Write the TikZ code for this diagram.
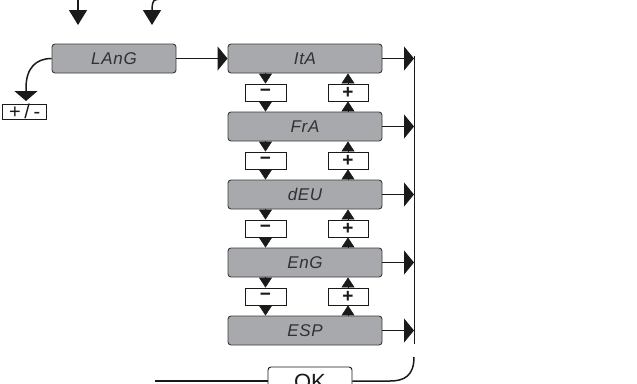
\documentclass[tikz,border=0pt]{standalone}
\usepackage{fontspec}
\setmainfont{Liberation Sans}
\newfontfamily\segfont[LetterSpace=4]{Liberation Sans}
\newfontfamily\keyfont[LetterSpace=18]{Liberation Sans}
\usetikzlibrary{arrows.meta}
\definecolor{boxgray}{HTML}{A7A9AC}
\definecolor{ink}{HTML}{1A1A1A}
\tikzset{
  disp/.style={draw=ink!85, fill=boxgray, line width=0.9pt, rounded corners=3pt,
    minimum width=154pt, minimum height=29pt, inner sep=0pt,
    font=\segfont\itshape\fontsize{17}{17}\selectfont, text=ink!90},
  keybox/.style={draw=ink, fill=white, line width=0.9pt, minimum width=41pt,
    minimum height=17pt, inner sep=0pt, font=\bfseries\fontsize{19}{19}\selectfont, text=ink},
  conn/.style={draw=ink, line width=1.5pt},
  bigtri/.style={conn, -{Triangle[width=24pt,length=10pt]}},
  toptri/.style={conn, -{Triangle[width=18pt,length=15pt]}},
  lefttri/.style={conn, -{Triangle[width=23pt,length=10pt]}},
  smalltri/.style={conn, line width=0.5pt, -{Triangle[width=13pt,length=10pt]}},
}
\begin{document}
\begin{tikzpicture}[x=1pt,y=-1pt]
\useasboundingbox (0,0) rectangle (637,383);
\clip (0,0) rectangle (637,383);

% top arrows
\coordinate (t1) at (78,-1);
\coordinate (t1e) at (78,25);
\coordinate (t2) at (160,-1);
\coordinate (t2e) at (152,25);
\draw[toptri] (t1) -- (t1e);
\draw[toptri] (t2) .. controls (153,0) .. (152,8) -- (t2e);

% LAnG
\node[disp, minimum width=124pt] (lang) at (114,58.5) {LAnG};
\node[draw=ink, line width=0.8pt, minimum width=44pt, minimum height=15pt, inner sep=0pt,
  font=\keyfont\fontsize{20}{20}\selectfont, text=ink, text height=14pt, text depth=0pt]
  (pm) at (24,111.5) {\hspace*{1.5pt}+/-};
\coordinate (pmtip) at (26,101);
\draw[lefttri] (lang.west) .. controls (36,58.5) and (26,68) .. (26,88) -- (pmtip);

% language boxes
\node[disp] (b1) at (305,58.5) {ItA};
\node[disp] (b2) at (305,126.5) {FrA};
\node[disp] (b3) at (305,194.5) {dEU};
\node[disp] (b4) at (305,262.5) {EnG};
\node[disp] (b5) at (305,330.5) {ESP};

\draw[bigtri] (lang.east) -- (b1.west);

% minus / plus keys
\foreach \i/\j/\y in {1/2/92.5, 2/3/160.5, 3/4/228.5, 4/5/296.5}{
  \node[keybox] (m\i) at (265.5,\y) {\char"2212};
  \node[keybox, minimum width=40pt] (p\i) at (348,\y) {+};
  \draw[smalltri] (b\i.south -| m\i) -- (m\i.north);
  \draw[smalltri] (m\i.south) -- (b\j.north -| m\i);
  \draw[smalltri] (p\i.north) -- (b\i.south -| p\i);
  \draw[smalltri] (b\j.north -| p\i) -- (p\i.south);
}

% right collector
\coordinate (vtop) at (414,56);
\coordinate (vbot) at (414,344);
\draw[conn, line width=1pt] (vtop) -- (vbot);
\foreach \i in {1,...,5}{
  \coordinate (r\i) at (b\i.east -| vtop);
  \draw[bigtri] (b\i.east) -- (r\i);
}

% bottom OK
\node[draw=ink, fill=white, line width=0.9pt, rounded corners=3pt, minimum width=84pt,
  minimum height=34pt, inner sep=0pt, font=\fontsize{22}{22}\selectfont, text=ink,
  text height=16pt, text depth=6pt] (ok) at (310,384) {OK};
\coordinate (c1) at (414,357);
\coordinate (lend) at (155,381);
\draw[conn] (c1) .. controls (414,376) and (404,381) .. (390,381) -- (ok.east |- lend);
\draw[conn] (ok.west |- lend) -- (lend);
\end{tikzpicture}
\end{document}
